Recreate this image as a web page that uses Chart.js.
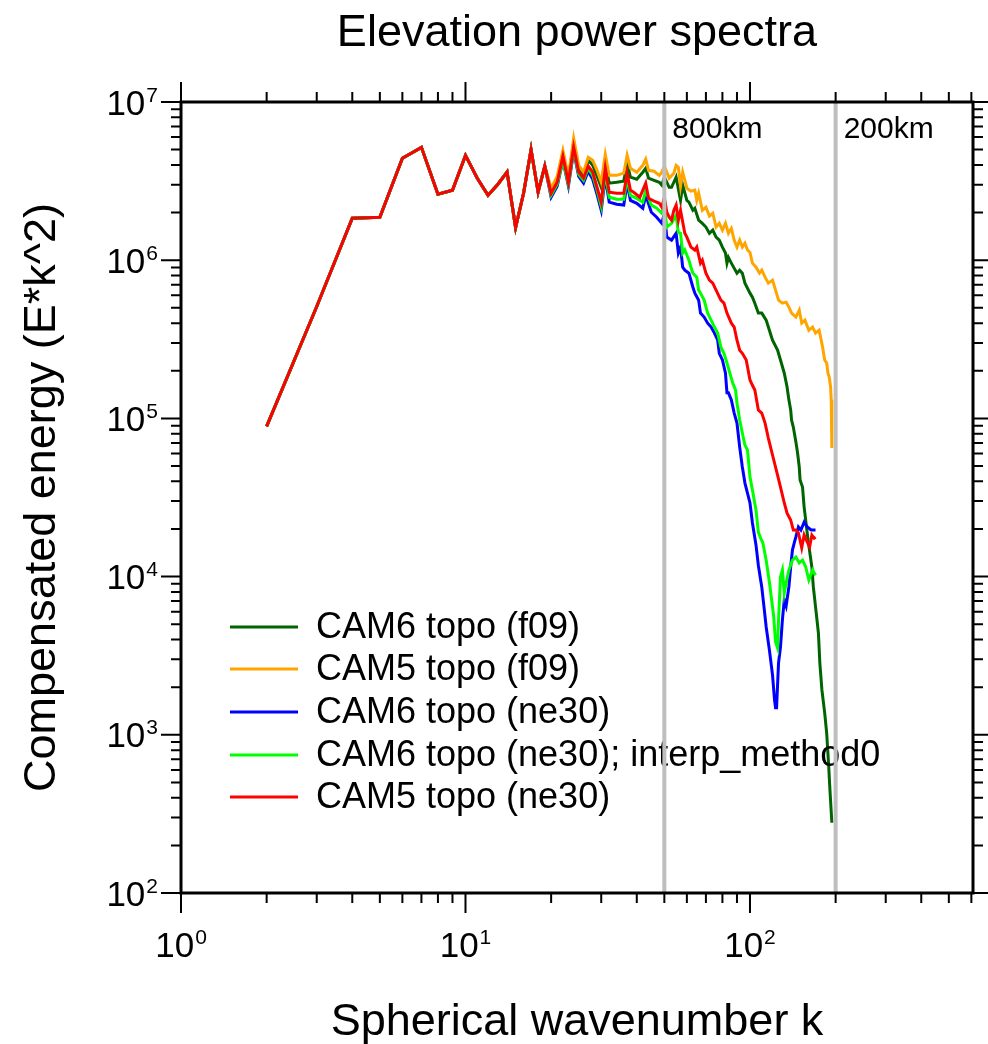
<!DOCTYPE html>
<html><head><meta charset="utf-8">
<script src="https://cdn.jsdelivr.net/npm/chart.js@4.4.1/dist/chart.umd.min.js"></script>
<style>html,body{margin:0;padding:0;background:#fff}canvas{display:block}</style>
</head><body>
<canvas id="c" width="988" height="1044"></canvas>
<script>
// ---- data (spherical wavenumber k, compensated energy E*k^2) ----
const kCommon = [2,3,4,5,6,7,8,9,10,11,12,13,14,15,16,17,18,19];
const eCommon = [8.9e4,5.1e5,1.84e6,1.87e6,4.41e6,5.17e6,2.61e6,2.77e6,4.6e6,3.3e6,2.57e6,3.02e6,3.61e6,1.61e6,2.65e6,5.0e6,2.7e6,3.93e6];

const kCam6f09 = [20,21,22,23,24,25,26,27,28,29,30,31,32,34,36,37,38,40,42,43,44,46,48,49,50,52,53,55,57,58,60,61,63,64,66,68,70,72,74,76,78,80,82,83,84,86,90,92,94,96,100,102,104,107,110,114,117,120,125,128,132,135,137,139,140,142,145,147,149,150,153,155,158,160,165,167,170,174,176,179,183,186,189,191,194];
const eCam6f09 = [2.77e6,3.25e6,4.74e6,3.25e6,5.57e6,3.81e6,3.44e6,4.28e6,3.98e6,3.39e6,2.89e6,4.10e6,3.07e6,3.11e6,3.16e6,4.10e6,3.35e6,3.25e6,3.60e6,3.81e6,3.30e6,3.20e6,3.11e6,2.98e6,3.35e6,2.89e6,2.89e6,3.35e6,2.39e6,2.98e6,2.39e6,2.33e6,2.07e6,2.13e6,1.79e6,1.71e6,1.62e6,1.48e6,1.55e6,1.40e6,1.34e6,1.21e6,1.11e6,9.58e5,1.04e6,9.58e5,8.28e5,8.65e5,8.28e5,7.16e5,6.19e5,5.84e5,5.35e5,4.63e5,4.63e5,4.18e5,3.61e5,3.12e5,2.70e5,2.34e5,1.93e5,1.58e5,1.31e5,1.13e5,9.76e4,8.81e4,7.09e4,6.04e4,4.93e4,4.08e4,3.68e4,2.75e4,2.06e4,1.70e4,1.15e4,8.60e3,6.43e3,4.40e3,2.85e3,1.92e3,1.38e3,1.03e3,645,449,278];

const kCam5f09 = [20,21,22,23,24,25,26,27,28,29,30,31,32,34,36,37,38,40,42,43,44,46,48,49,50,52,54,55,56,57,58,60,62,64,65,66,68,70,72,74,76,78,80,82,84,86,88,90,92,94,96,98,100,102,105,108,110,113,116,120,123,126,130,134,137,140,145,149,152,156,161,166,170,175,178,180,183,186,188,190,192,193,194];
const eCam5f09 = [2.85e6,3.39e6,4.95e6,3.39e6,5.90e6,3.98e6,3.60e6,4.47e6,4.28e6,3.70e6,3.11e6,4.67e6,3.44e6,3.44e6,3.55e6,4.61e6,3.81e6,3.60e6,3.98e6,4.35e6,3.70e6,3.65e6,3.44e6,3.60e6,3.93e6,3.30e6,3.55e6,3.98e6,3.87e6,2.94e6,3.60e6,2.85e6,2.73e6,2.77e6,2.39e6,2.65e6,2.07e6,2.16e6,1.90e6,1.98e6,1.62e6,1.71e6,1.55e6,1.71e6,1.48e6,1.59e6,1.34e6,1.21e6,1.34e6,1.21e6,1.28e6,1.16e6,1.12e6,9.58e5,9.03e5,8.28e5,8.65e5,7.81e5,7.16e5,7.48e5,6.47e5,5.59e5,5.35e5,5.43e5,5.05e5,4.63e5,4.37e5,4.83e5,4.00e5,4.18e5,3.61e5,3.78e5,3.46e5,3.61e5,3.12e5,2.82e5,2.34e5,2.24e5,1.93e5,1.82e5,1.58e5,1.31e5,6.49e4];

const kCam6ne30 = [20,21,22,23,24,25,26,27,28,29,30,31,32,34,36,37,38,40,42,43,45,47,49,50,51,53,55,56,57,58,59,61,63,64,66,67,69,71,73,75,77,78,80,82,83,84,86,88,90,92,94,96,100,102,105,107,109,110,112,114,117,120,122,123,124,126,128,130,132,134,137,139,141,143,145,148,151,155,159,164,170];
const eCam6ne30 = [2.50e6,2.94e6,4.28e6,2.94e6,4.88e6,3.39e6,3.07e6,3.65e6,3.25e6,2.61e6,2.07e6,3.35e6,2.33e6,2.26e6,2.23e6,3.07e6,2.39e6,2.29e6,2.13e6,2.57e6,2.01e6,1.87e6,1.71e6,1.98e6,1.40e6,1.34e6,1.48e6,1.11e6,1.21e6,9.03e5,8.65e5,8.28e5,6.75e5,6.19e5,5.59e5,4.63e5,4.37e5,4.00e5,3.78e5,3.46e5,3.12e5,2.58e5,2.34e5,1.93e5,1.45e5,1.45e5,1.31e5,1.08e5,9.34e4,6.59e4,4.93e4,3.90e4,2.92e4,2.18e4,1.58e4,1.18e4,9.52e3,8.60e3,6.43e3,4.80e3,3.44e3,2.39e3,1.66e3,1.48e3,1.48e3,2.85e3,3.59e3,5.32e3,7.12e3,6.52e3,8.60e3,1.15e4,1.47e4,1.63e4,1.78e4,2.06e4,1.97e4,2.21e4,2.06e4,1.97e4,1.97e4];

const kCam6ne30i0 = [20,21,22,23,24,25,26,27,28,29,30,31,32,34,36,37,38,40,42,43,45,47,49,50,51,53,55,56,57,58,59,61,62,63,65,66,67,69,71,73,75,77,79,81,83,85,87,89,90,92,94,96,98,100,102,105,107,109,111,114,117,121,123,125,126,128,130,132,134,137,141,145,149,153,157,161,166,170];
const eCam6ne30i0 = [2.57e6,3.02e6,4.28e6,3.02e6,5.03e6,3.49e6,3.20e6,3.81e6,3.44e6,2.77e6,2.19e6,3.55e6,2.50e6,2.43e6,2.43e6,3.30e6,2.57e6,2.46e6,2.33e6,2.77e6,2.23e6,2.13e6,1.98e6,2.23e6,1.62e6,1.71e6,1.92e6,1.50e6,1.48e6,1.11e6,1.16e6,1.00e6,9.03e5,8.28e5,7.81e5,6.47e5,6.19e5,5.59e5,4.63e5,4.18e5,3.78e5,3.46e5,2.82e5,2.58e5,2.24e5,1.93e5,1.67e5,1.51e5,1.25e5,9.76e4,8.08e4,6.78e4,6.31e4,4.26e4,3.52e4,2.64e4,1.91e4,1.75e4,1.63e4,1.27e4,9.25e3,5.72e3,3.86e3,3.54e3,5.32e3,9.94e3,1.10e4,7.88e3,9.11e3,1.10e4,1.27e4,1.33e4,1.22e4,1.27e4,1.15e4,9.52e3,1.10e4,1.02e4];

const kCam5ne30 = [20,21,22,23,24,25,26,27,28,29,30,31,32,34,36,37,38,39,41,43,44,46,48,49,50,51,52,53,54,55,56,57,59,60,62,64,65,67,68,70,72,74,76,79,81,83,86,88,90,92,94,97,100,102,104,107,110,113,116,120,125,128,132,135,139,142,145,148,152,155,159,162,165,168,170];
const eCam5ne30 = [2.65e6,3.11e6,4.54e6,3.11e6,5.18e6,3.60e6,3.30e6,3.93e6,3.60e6,2.89e6,2.33e6,3.81e6,2.69e6,2.65e6,2.65e6,3.55e6,2.77e6,2.69e6,2.50e6,3.07e6,2.46e6,2.36e6,2.29e6,2.16e6,2.50e6,2.01e6,1.87e6,1.79e6,2.07e6,2.23e6,1.79e6,2.07e6,1.48e6,1.40e6,1.21e6,1.16e6,1.21e6,9.58e5,1.00e6,8.28e5,7.48e5,7.16e5,6.47e5,5.59e5,5.35e5,4.63e5,4.00e5,3.78e5,3.12e5,2.70e5,2.58e5,2.34e5,1.75e5,1.62e5,1.51e5,1.13e5,1.08e5,9.34e4,7.51e4,5.87e4,4.38e4,3.68e4,2.92e4,2.52e4,2.28e4,1.97e4,1.97e4,1.89e4,1.52e4,1.83e4,1.65e4,1.54e4,1.83e4,1.75e4,1.78e4];

const seriesNames = ['CAM6 topo (f09)','CAM5 topo (f09)','CAM6 topo (ne30)','CAM6 topo (ne30); interp_method0','CAM5 topo (ne30)'];
const seriesColors = ['#006400','#ffa500','#0000ff','#00ff00','#ff0000'];
const xMajorTicks = [1,10,100];
const yMajorTicks = [1e2,1e3,1e4,1e5,1e6,1e7];
const refLines = [50,200];
const refLabels = ['800km','200km'];
const xRange = [1,608];
const yRange = [1e2,1e7];

function pairs(ks, es){ return ks.map((k,i)=>({x:k,y:es[i]})); }
const seriesK = [kCam6f09,kCam5f09,kCam6ne30,kCam6ne30i0,kCam5ne30];
const seriesE = [eCam6f09,eCam5f09,eCam6ne30,eCam6ne30i0,eCam5ne30];
const datasets = seriesNames.map((name,i)=>({
  label: name,
  data: pairs(kCommon,eCommon).concat(pairs(seriesK[i],seriesE[i])),
  borderColor: seriesColors[i],
  backgroundColor: seriesColors[i],
  borderWidth: 3,
  pointRadius: 0,
  tension: 0,
  fill: false,
  order: 5 - i
}));

const FONT = '"Liberation Sans", Arial, Helvetica, sans-serif';

function minorValues(min, max){
  const out = [];
  for (let p = Math.floor(Math.log10(min)); p <= Math.ceil(Math.log10(max)); p++){
    for (let m = 2; m <= 9; m++){
      const v = m * Math.pow(10,p);
      if (v > min && v < max) out.push(v);
    }
  }
  return out;
}

function drawPow(ctx, exp, x, yBase, align){
  ctx.font = '35px ' + FONT;
  const w1 = ctx.measureText('10').width;
  ctx.font = '21px ' + FONT;
  const s = String(exp);
  const w2 = ctx.measureText(s).width;
  const total = w1 + 1 + w2;
  let x0 = align === 'center' ? x - total/2 : x - total;
  ctx.textAlign = 'left';
  ctx.textBaseline = 'alphabetic';
  ctx.font = '35px ' + FONT;
  ctx.fillText('10', x0, yBase);
  ctx.font = '21px ' + FONT;
  ctx.fillText(s, x0 + w1 + 1, yBase - 13);
}

const decor = {
  id: 'decor',
  afterDatasetsDraw(chart){
    const ctx = chart.ctx;
    const xs = chart.scales.x, ys = chart.scales.y;
    const a = chart.chartArea;
    ctx.save();
    ctx.fillStyle = '#000';
    // legend
    const legY = [627,669,712,755,797];
    seriesNames.forEach((n,i)=>{
      ctx.strokeStyle = seriesColors[i];
      ctx.lineWidth = 3;
      ctx.beginPath(); ctx.moveTo(230,legY[i]); ctx.lineTo(298,legY[i]); ctx.stroke();
      ctx.font = '36px ' + FONT;
      ctx.textAlign = 'left'; ctx.textBaseline = 'middle';
      ctx.fillStyle = '#000';
      ctx.fillText(n, 316, legY[i] + 1);
    });
    // reference lines
    refLines.forEach((k,i)=>{
      const px = xs.getPixelForValue(k);
      ctx.strokeStyle = '#bebebe';
      ctx.lineWidth = 4;
      ctx.beginPath(); ctx.moveTo(px,a.top); ctx.lineTo(px,a.bottom); ctx.stroke();
      ctx.font = '30px ' + FONT;
      ctx.textAlign = 'left'; ctx.textBaseline = 'alphabetic';
      ctx.fillStyle = '#000';
      ctx.fillText(refLabels[i], px + 8, 138);
    });
    // frame
    ctx.strokeStyle = '#000';
    ctx.lineWidth = 3;
    ctx.strokeRect(a.left, a.top, a.right - a.left, a.bottom - a.top);
    // ticks
    ctx.lineWidth = 2;
    const MAJ = 20, MIN = 10;
    const xMin = minorValues(xRange[0], xRange[1]);
    const yMin = minorValues(yRange[0], yRange[1]);
    ctx.beginPath();
    xMajorTicks.forEach(v=>{ const p = xs.getPixelForValue(v);
      ctx.moveTo(p,a.bottom); ctx.lineTo(p,a.bottom+MAJ);
      ctx.moveTo(p,a.top); ctx.lineTo(p,a.top-MAJ); });
    xMin.forEach(v=>{ const p = xs.getPixelForValue(v);
      ctx.moveTo(p,a.bottom); ctx.lineTo(p,a.bottom+MIN);
      ctx.moveTo(p,a.top); ctx.lineTo(p,a.top-MIN); });
    yMajorTicks.forEach(v=>{ const p = ys.getPixelForValue(v);
      ctx.moveTo(a.left,p); ctx.lineTo(a.left-MAJ,p);
      ctx.moveTo(a.right,p); ctx.lineTo(a.right+MAJ,p); });
    yMin.forEach(v=>{ const p = ys.getPixelForValue(v);
      ctx.moveTo(a.left,p); ctx.lineTo(a.left-MIN,p);
      ctx.moveTo(a.right,p); ctx.lineTo(a.right+MIN,p); });
    ctx.stroke();
    // tick labels
    ctx.fillStyle = '#000';
    xMajorTicks.forEach(v=>{ drawPow(ctx, Math.round(Math.log10(v)), xs.getPixelForValue(v), 957, 'center'); });
    yMajorTicks.forEach(v=>{ drawPow(ctx, Math.round(Math.log10(v)), 158, ys.getPixelForValue(v) + 12.5, 'right'); });
    // titles
    ctx.font = '45px ' + FONT;
    ctx.textAlign = 'center'; ctx.textBaseline = 'alphabetic';
    const cx = (a.left + a.right)/2, cy = (a.top + a.bottom)/2;
    ctx.fillText('Elevation power spectra', cx, 46);
    ctx.fillText('Spherical wavenumber k', cx, 1035);
    ctx.save();
    ctx.translate(55, cy);
    ctx.rotate(-Math.PI/2);
    ctx.fillText('Compensated energy (E*k^2)', 0, 0);
    ctx.restore();
    ctx.restore();
  }
};

new Chart(document.getElementById('c'), {
  type: 'line',
  data: { datasets },
  options: {
    responsive: false,
    animation: false,
    devicePixelRatio: 1,
    layout: { padding: { left: 181, right: 15, top: 102, bottom: 151 } },
    plugins: { legend: { display: false }, tooltip: { enabled: false }, title: { display: false } },
    scales: {
      x: { type: 'logarithmic', min: xRange[0], max: xRange[1], display: false },
      y: { type: 'logarithmic', min: yRange[0], max: yRange[1], display: false }
    }
  },
  plugins: [decor]
});
</script>
</body></html>
